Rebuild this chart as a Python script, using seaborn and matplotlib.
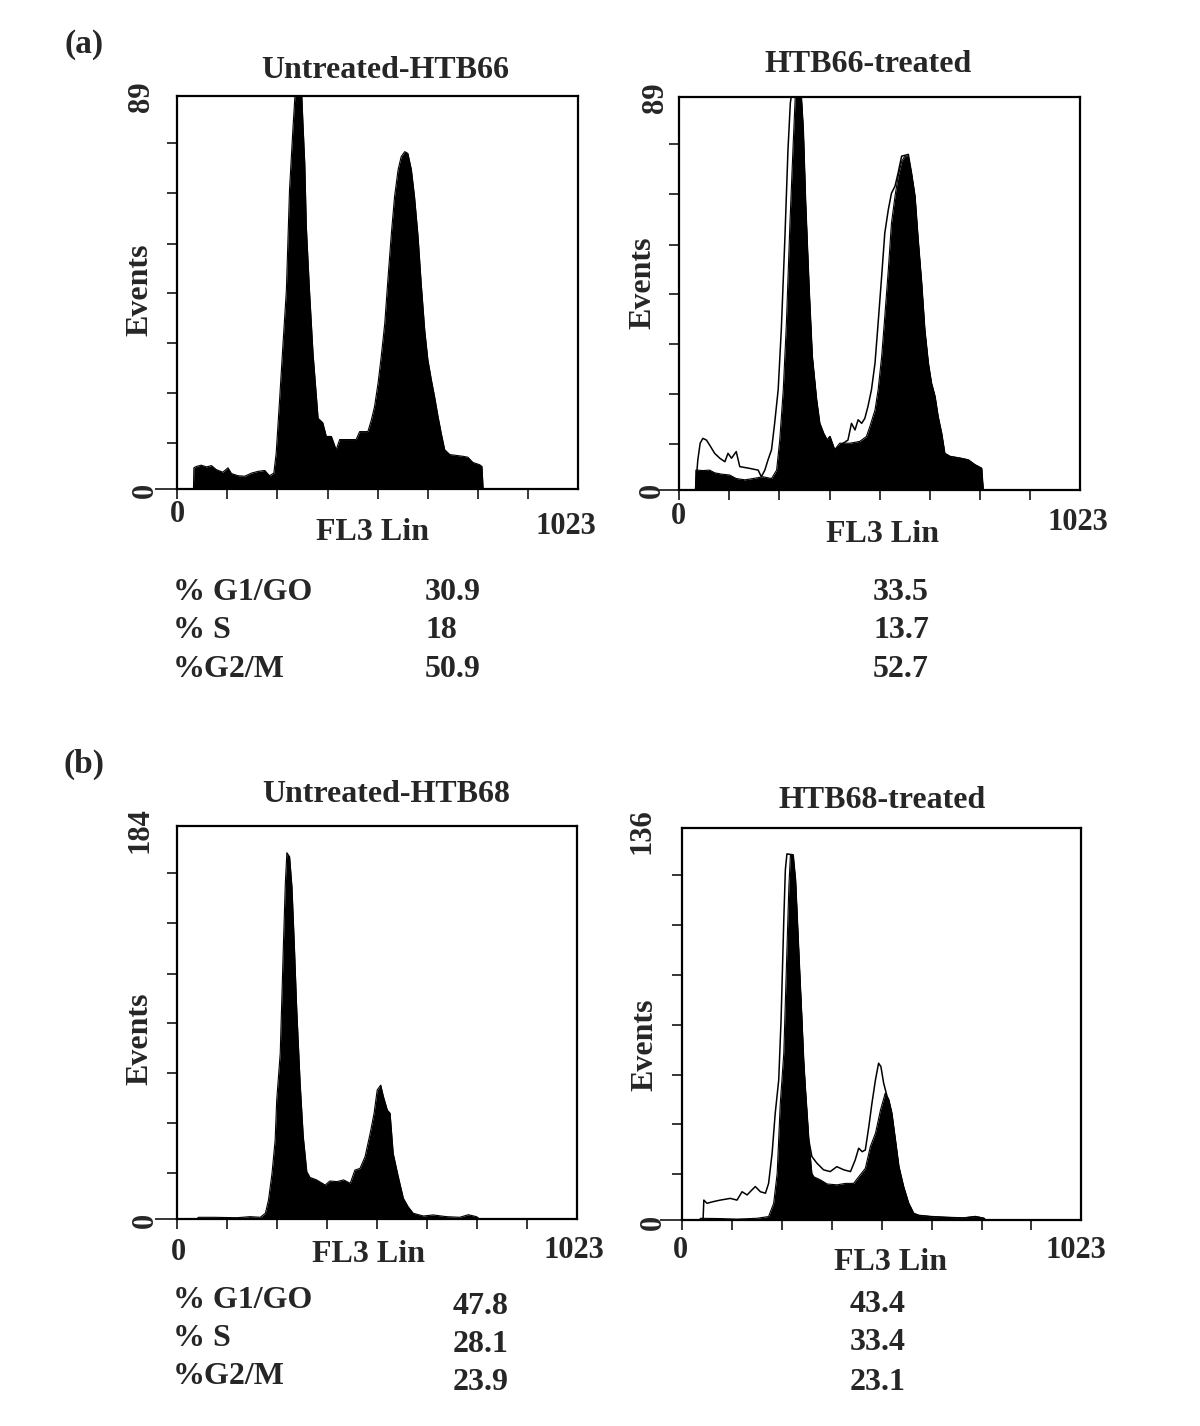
import numpy as np
import matplotlib
matplotlib.use("Agg")
import matplotlib.pyplot as plt
import seaborn as sns

# channel (FL3 Lin) / event counts
a_untr_ch = [42, 43, 49, 62, 75, 88, 100, 117, 130, 139, 156, 173, 190, 207, 224, 236, 247, 253, 262, 270,
             279, 287, 296, 303, 317, 321, 326, 330, 338, 347, 355, 360, 372, 381, 394, 406, 415, 457, 466, 487,
             496, 504, 513, 521, 530, 538, 547, 555, 564, 572, 581, 589, 598, 606, 615, 623, 632, 640, 649, 657,
             666, 674, 683, 696, 730, 742, 755, 772, 778, 781]
a_untr_ct = [0, 4.8, 5.1, 5.4, 5.0, 5.3, 4.4, 3.8, 4.8, 3.5, 3.0, 2.9, 3.6, 4.0, 4.2, 3.0, 3.6, 8.1, 20.6, 32.3,
             45, 67.7, 82, 92, 92, 83.5, 73.7, 59.4, 45, 30.8, 21.7, 16, 15, 11.9, 11.9, 8.9, 11.2, 11.2, 13, 13,
             15.7, 18.7, 24, 30, 37.5, 47.4, 58, 66.2, 72.3, 75.3, 76.4, 76, 72.3, 66.2, 57.2, 46.6, 36, 29.3, 24.7, 21,
             16.4, 12.7, 8.9, 7.8, 7.4, 7.2, 6.0, 5.5, 5.1, 0]

a_ref_ch = [42, 43, 48, 61, 78, 91, 108, 129, 146, 168, 189, 214, 236, 249, 257, 266, 274, 283, 291, 298,
            310, 317, 323, 332, 340, 351, 359, 369, 378, 385, 397, 410, 436, 461, 478, 487, 500, 508, 517, 525,
            534, 542, 551, 559, 568, 576, 585, 593, 602, 610, 619, 627, 636, 644, 653, 661, 670, 678, 691, 717,
            738, 755, 772, 776]
a_ref_ct = [0, 4.5, 4.5, 4.4, 4.5, 3.9, 3.6, 3.4, 2.6, 2.3, 2.6, 3.0, 2.6, 4.5, 11.3, 22.7, 37.8, 60.4, 77.8, 92,
            92, 81.6, 65, 45.3, 30.2, 20.4, 15.1, 12.8, 11.3, 12.1, 9.1, 10.6, 10.6, 11, 12.1, 14.4, 18.1, 22.7, 30.2, 39.3,
            49.9, 60.4, 66.5, 71, 74.4, 75.6, 75.6, 71.8, 66.5, 56.7, 46.8, 36.3, 28.7, 24.2, 21.2, 16.6, 12.8, 8.3, 7.6, 7.2,
            6.8, 5.7, 4.9, 0]

a_trt_ch = [42, 48, 54, 61, 70, 78, 91, 104, 117, 125, 134, 146, 155, 180, 202, 210, 219, 227, 236, 244,
            253, 261, 270, 278, 284, 291, 310, 317, 323, 332, 340, 351, 359, 369, 378, 385, 397, 419, 431, 440,
            449, 457, 466, 474, 482, 491, 500, 508, 517, 525, 534, 542, 551, 559, 568, 585, 593, 602, 610, 619,
            627, 636, 644, 653, 661, 670, 678, 691, 717, 738, 755, 772, 776]
a_trt_ct = [0, 6.8, 10.6, 11.7, 11.3, 10.2, 8.3, 7.2, 6.4, 8.3, 7.2, 8.7, 5.3, 4.9, 4.5, 3.0, 4.5, 6.8, 9.1, 15.1,
            22.7, 36.3, 56.7, 77, 87.6, 92, 92, 81.6, 65, 45.3, 30.2, 20.4, 15.1, 12.8, 11.3, 12.1, 9.1, 10.6, 11.3, 15.1,
            13.6, 15.9, 15.1, 16.2, 18.9, 22.7, 28.7, 37.8, 48.4, 58.2, 63.5, 67.2, 68.8, 71.8, 75.6, 76, 71.8, 66.5, 56.7, 46.8,
            36.3, 28.7, 24.2, 21.2, 16.6, 12.8, 8.3, 7.6, 7.2, 6.8, 5.7, 4.9, 0]

b_untr_ch = [50, 55, 94, 153, 187, 213, 226, 234, 243, 251, 255, 264, 272, 277, 281, 288, 294, 300, 306, 315,
             323, 332, 340, 357, 379, 391, 409, 426, 443, 455, 468, 481, 494, 504, 512, 521, 528, 538, 545, 553,
             566, 579, 591, 604, 630, 655, 689, 723, 745, 766, 774]
b_untr_ct = [0, 0.8, 0.8, 0.6, 1.1, 0.8, 2.7, 8.9, 21.4, 37, 55.7, 77.6, 127.5, 157, 171.5, 169.6, 155.6, 129, 99.4, 63.5,
             38.5, 22.2, 19.5, 18.3, 15.9, 17.8, 17.5, 18.3, 16.7, 22.9, 23.7, 29.2, 40.1, 49.5, 60.4, 62.7, 57.3, 51, 49.5, 30.7,
             19.8, 9.7, 5.8, 2.7, 1.4, 1.9, 1.1, 0.8, 2.0, 1.1, 0]

b_ref_ch = [45, 47, 98, 141, 192, 222, 235, 244, 252, 261, 269, 274, 278, 285, 291, 297, 303, 306, 312, 316,
            325, 333, 338, 355, 372, 397, 419, 440, 453, 470, 483, 496, 509, 521, 530, 538, 547, 556, 568, 581,
            594, 607, 637, 679, 722, 752, 774, 778]
b_ref_ct = [0, 0.6, 0.5, 0.3, 0.6, 1.2, 5.8, 16.2, 40.5, 57.9, 93.7, 115.7, 126.7, 126.2, 118, 100, 82, 74, 55, 46,
            27.8, 16.2, 15, 13.9, 12.5, 12.2, 12.7, 12.7, 15, 17.9, 25.5, 30.1, 38.2, 44, 41.7, 37, 27.8, 18.5, 11.6, 5.8,
            2.3, 1.6, 1.2, 0.9, 0.7, 1.2, 0.6, 0]

b_trt_ch = [45, 54, 56, 64, 81, 98, 124, 141, 154, 167, 179, 188, 201, 214, 222, 231, 239, 248, 254, 261,
            265, 269, 285, 291, 297, 303, 312, 316, 325, 333, 346, 363, 380, 397, 415, 432, 444, 453, 462, 470,
            479, 487, 496, 504, 510, 517, 526, 530, 538, 547, 556, 568, 581, 594, 607, 637, 679, 722, 752, 774,
            778]
b_trt_ct = [0, 0, 6.9, 5.8, 6.4, 6.9, 7.5, 6.9, 9.8, 8.7, 10.4, 11.6, 9.8, 9.3, 12.7, 23.1, 37, 48.6, 69.4, 104.2,
            121.5, 127, 126.7, 118, 100, 82, 55, 46, 27.8, 22, 19.7, 17.4, 16.8, 18.5, 17.4, 16.8, 20.8, 24.9, 23.7, 24.3,
            32.4, 40.5, 48.6, 54.4, 53.2, 47.5, 42.8, 41.7, 37, 27.8, 18.5, 11.6, 5.8, 2.3, 1.6, 1.2, 0.9, 0.7, 1.2, 0.6,
            0]

titles = ["Untreated-HTB66", "HTB66-treated", "Untreated-HTB68", "HTB68-treated"]
y_max = [89, 89, 184, 136]
phases = ["% G1/GO", "% S", "%G2/M"]
pct_a_untr = [30.9, 18, 50.9]
pct_a_trt = [33.5, 13.7, 52.7]
pct_b_untr = [47.8, 28.1, 23.9]
pct_b_trt = [43.4, 33.4, 23.1]

sns.set_style("ticks")
plt.rcParams["font.family"] = ["Liberation Serif", "DejaVu Serif"]
plt.rcParams["font.weight"] = "bold"

W, H = 1200, 1426
fig = plt.figure(figsize=(W / 100, H / 100), dpi=100)


def put(x, y, s, size=22, rot=0, ha="center"):
    fig.text(x / W, 1 - y / H, s, fontsize=size, fontweight="bold",
             rotation=rot, ha=ha, va="center")


def panel(box, ymax, f_ch, f_ct, o_ch=None, o_ct=None):
    l, t, r, b = box
    ax = fig.add_axes([l / W, 1 - b / H, (r - l) / W, (b - t) / H])
    if o_ch is not None:
        sns.lineplot(x=o_ch, y=o_ct, color="black", lw=1.1, ax=ax)
    ax.fill_between(f_ch, f_ct, color="black", lw=0)
    sns.lineplot(x=f_ch, y=f_ct, color="black", lw=0.8, ax=ax)
    ax.set_xlim(0, 1023)
    ax.set_ylim(0, ymax)
    ax.set_xticks(np.arange(0, 1000, 128))
    ax.set_yticks(np.array([0, .117, .244, .371, .498, .624, .753, .880]) * ymax)
    ax.set_xticklabels([])
    ax.set_yticklabels([])
    ax.set_xlabel("")
    ax.set_ylabel("")
    ax.tick_params(direction="out", length=7.5, width=1.1, color="black")
    ax.yaxis.get_major_ticks()[0].tick1line.set_markersize(16)
    for sp in ax.spines.values():
        sp.set_visible(True)
        sp.set_linewidth(1.6)
        sp.set_color("black")
    return ax


panel((177, 96, 578, 489), y_max[0], a_untr_ch, a_untr_ct)
panel((679, 97, 1080, 490), y_max[1], a_ref_ch, a_ref_ct, a_trt_ch, a_trt_ct)
panel((177, 826, 577, 1219), y_max[2], b_untr_ch, b_untr_ct)
panel((682, 828, 1081, 1220), y_max[3], b_ref_ch, b_ref_ct, b_trt_ch, b_trt_ct)

# panel letters and titles
put(84, 44, "(a)", 24)
put(84, 764, "(b)", 24)
put(385, 70, titles[0], 23)
put(868, 65, titles[1], 23)
put(386, 795, titles[2], 23)
put(882, 801, titles[3], 23)

# y-axis end labels and "Events"
put(142, 97, str(y_max[0]), rot=90)
put(656, 98, str(y_max[1]), rot=90)
put(140, 830, str(y_max[2]), rot=90)
put(642, 831, str(y_max[3]), rot=90)
for x, y in [(145, 490), (652, 490), (145, 1220), (653, 1222)]:
    put(x, y, "0", rot=90)
for x, y in [(140, 290), (643, 283), (140, 1039), (645, 1045)]:
    put(x, y, "Events", 23, rot=90)

# x-axis labels
for x0, x1, xl, y0, y1, yl in [(177, 566, 373, 514, 527, 533),
                              (678, 1078, 883, 517, 523, 535),
                              (178, 574, 369, 1252, 1251, 1255),
                              (680, 1076, 890, 1250, 1250, 1262)]:
    put(x0, y0, "0")
    put(x1, y1, "1023")
    put(xl, yl, "FL3 Lin", 23)

# cell cycle percentages
for i, name in enumerate(phases):
    put(173, [593, 631, 669][i], name, 23, ha="left")
    put(425, [593, 631, 669][i], f"{pct_a_untr[i]:g}", 23, ha="left")
    put(873, [593, 631, 669][i], f"{pct_a_trt[i]:g}", 23, ha="left")
    put(173, [1301, 1339, 1377][i], name, 23, ha="left")
    put(453, [1307, 1344, 1382][i], f"{pct_b_untr[i]:g}", 23, ha="left")
    put(850, [1305, 1343, 1382][i], f"{pct_b_trt[i]:g}", 23, ha="left")

fig.savefig("out.png", dpi=100, facecolor="white")
